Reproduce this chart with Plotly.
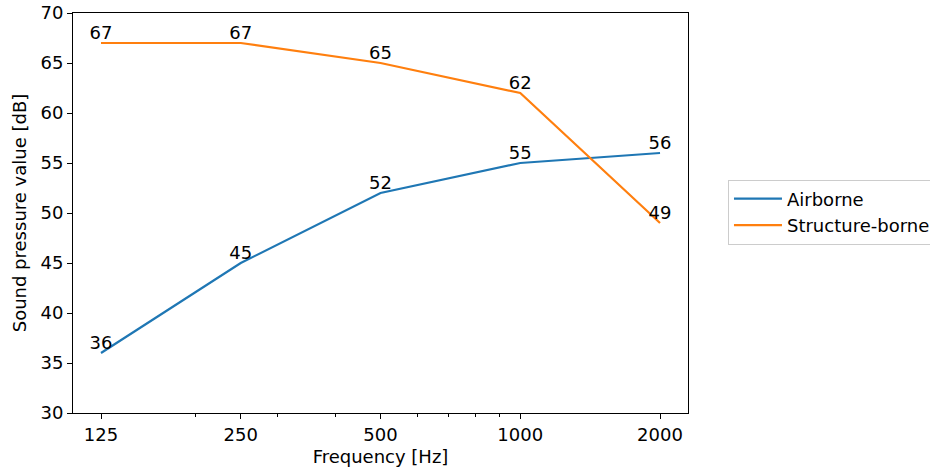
import plotly.graph_objects as go

frequencies = [125, 250, 500, 1000, 2000]
airborne = [36, 45, 52, 55, 56]
structure_borne = [67, 67, 65, 62, 49]
tick_labels = ["125", "250", "500", "1000", "2000"]
minor_ticks = [200, 300, 400, 600, 700, 800, 900]

FONT = "DejaVu Sans"
fs = 18

fig = go.Figure()
fig.add_trace(go.Scatter(
    x=frequencies, y=airborne, name="Airborne", mode="lines+text",
    line=dict(color="#1f77b4", width=2.2),
    text=[str(v) for v in airborne], textposition="top center",
    textfont=dict(family=FONT, size=fs, color="black"),
))
fig.add_trace(go.Scatter(
    x=frequencies, y=structure_borne, name="Structure-borne", mode="lines+text",
    line=dict(color="#ff7f0e", width=2.2),
    text=[str(v) for v in structure_borne], textposition="top center",
    textfont=dict(family=FONT, size=fs, color="black"),
))

fig.update_layout(
    width=970, height=470,
    margin=dict(l=73, r=282, t=13, b=57, autoexpand=False),
    paper_bgcolor="white", plot_bgcolor="white",
    font=dict(family=FONT, size=fs, color="black"),
    showlegend=True,
    legend=dict(
        x=1.065, y=0.5025, xanchor="left", yanchor="middle",
        bgcolor="white", bordercolor="#cccccc", borderwidth=1,
        font=dict(family=FONT, size=fs, color="black"),
        itemwidth=48, tracegroupgap=0,
    ),
    xaxis=dict(
        type="log", range=[2.0366, 3.3613],
        tickmode="array", tickvals=frequencies, ticktext=tick_labels,
        ticks="outside", ticklen=5, tickwidth=1, tickcolor="black",
        showline=True, linecolor="black", linewidth=1, mirror=True,
        showgrid=False, zeroline=False,
        minor=dict(tickmode="array", tickvals=minor_ticks, ticks="outside",
                   ticklen=3, tickwidth=1, tickcolor="black", showgrid=False),
        title=dict(text="Frequency [Hz]", standoff=6, font=dict(family=FONT, size=fs)),
        tickfont=dict(family=FONT, size=fs),
        ticklabeloverflow="allow",
    ),
    yaxis=dict(
        range=[30, 70], dtick=5, tick0=30,
        ticks="outside", ticklen=5, tickwidth=1, tickcolor="black",
        showline=True, linecolor="black", linewidth=1, mirror=True,
        showgrid=False, zeroline=False,
        title=dict(text="Sound pressure value [dB]", standoff=9, font=dict(family=FONT, size=fs)),
        tickfont=dict(family=FONT, size=fs),
        ticklabeloverflow="allow",
    ),
)

post = ("document.documentElement.style.overflow='hidden';"
        "document.body.style.margin='0';document.body.style.overflow='hidden';")
fig.write_html("out.html", post_script=post, config={"displayModeBar": False})
